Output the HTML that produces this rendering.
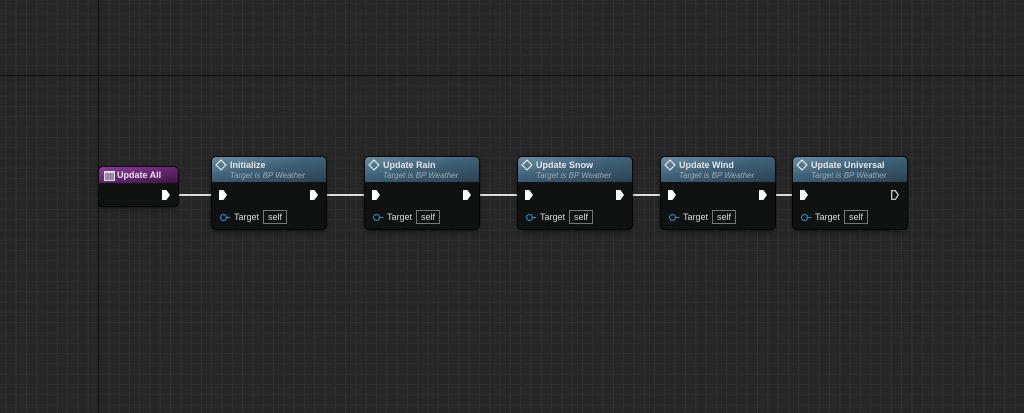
<!DOCTYPE html>
<html><head><style>
body{margin:0;width:1024px;height:413px;overflow:hidden;background:#262626;font-family:"Liberation Sans",sans-serif;position:relative}
.grid{position:absolute;inset:0;background-image:linear-gradient(to right,#2f2f2f 1px,transparent 1px),linear-gradient(to bottom,#2f2f2f 1px,transparent 1px);background-size:10.3px 10.3px;background-position:98px 75px}
.maj{position:absolute;background:#111}
.node{position:absolute;background:#101111;border-radius:4px;box-shadow:0 0 0 1px #050505,0 2px 4px rgba(0,0,0,.6)}
.hd{position:absolute;left:0;right:0;top:0;border-radius:4px 4px 0 0;background:linear-gradient(170deg,#6a8ea5 0%,#3f6178 45%,#2a4252 100%)}
.t{position:absolute;left:18px;top:3px;color:#e6e6e6;font-size:9px;font-weight:bold}
.s{position:absolute;left:18px;top:14px;color:#9aa9b2;font-size:8px;font-style:italic}
.ic{position:absolute;left:5px;top:4px;width:6px;height:6px;border:1.5px solid #fff;transform:rotate(45deg)}
.pin{position:absolute;width:8px;height:10px;background:#fff;clip-path:polygon(0 0,55% 0,100% 50%,55% 100%,0 100%)}
.pino{position:absolute;width:8px;height:10px}
.tg{position:absolute;left:8px;color:#ddd;font-size:9px}
.tg i{display:inline-block;width:5px;height:5px;border:1.5px solid #1d9ad6;border-radius:50%;vertical-align:middle;margin-right:1px}
.tg i+b{display:inline-block;width:4px;height:1.5px;background:#1d9ad6;vertical-align:middle;margin-right:4px;margin-left:-2px}
.tg span{display:inline-block;border:1px solid #777;padding:0 4px;margin-left:4px;line-height:12px}
.wire{position:absolute;height:2px;background:#ddd;top:194px}
</style></head><body>
<div class="grid"></div>
<div class="maj" style="left:98px;top:0;width:1px;height:413px"></div>
<div class="maj" style="left:0;top:75px;width:1024px;height:1px"></div>

<div class="wire" style="left:169px;width:50px"></div>
<div class="wire" style="left:318px;width:54px"></div>
<div class="wire" style="left:471px;width:54px"></div>
<div class="wire" style="left:624px;width:44px"></div>
<div class="wire" style="left:767px;width:33px"></div>

<div class="node" style="left:99px;top:167px;width:79px;height:39px">
 <div class="hd" style="height:16px;background:linear-gradient(170deg,#8e3a9c,#5e2168 60%,#3c1642)"></div>
 <div style="position:absolute;left:5px;top:4px;width:9px;height:7px;border:1px solid #ddd;border-top-width:2px;background:#9a8aa8"></div>
 <div class="t" style="left:18px;top:3px">Update All</div>
 <div class="pin" style="left:63px;top:23px"></div>
</div>

<div class="node" style="left:212px;top:157px;width:114px;height:72px">
 <div class="hd" style="height:25px"></div><div class="ic"></div>
 <div class="t">Initialize</div><div class="s">Target is BP Weather</div>
 <div class="pin" style="left:7px;top:33px"></div><div class="pin" style="left:98px;top:33px"></div>
 <div class="tg" style="top:53px"><i></i><b></b>Target<span>self</span></div>
</div>
<div class="node" style="left:365px;top:157px;width:114px;height:72px">
 <div class="hd" style="height:25px"></div><div class="ic"></div>
 <div class="t">Update Rain</div><div class="s">Target is BP Weather</div>
 <div class="pin" style="left:7px;top:33px"></div><div class="pin" style="left:98px;top:33px"></div>
 <div class="tg" style="top:53px"><i></i><b></b>Target<span>self</span></div>
</div>
<div class="node" style="left:518px;top:157px;width:114px;height:72px">
 <div class="hd" style="height:25px"></div><div class="ic"></div>
 <div class="t">Update Snow</div><div class="s">Target is BP Weather</div>
 <div class="pin" style="left:7px;top:33px"></div><div class="pin" style="left:98px;top:33px"></div>
 <div class="tg" style="top:53px"><i></i><b></b>Target<span>self</span></div>
</div>
<div class="node" style="left:661px;top:157px;width:114px;height:72px">
 <div class="hd" style="height:25px"></div><div class="ic"></div>
 <div class="t">Update Wind</div><div class="s">Target is BP Weather</div>
 <div class="pin" style="left:7px;top:33px"></div><div class="pin" style="left:98px;top:33px"></div>
 <div class="tg" style="top:53px"><i></i><b></b>Target<span>self</span></div>
</div>
<div class="node" style="left:793px;top:157px;width:114px;height:72px">
 <div class="hd" style="height:25px"></div><div class="ic"></div>
 <div class="t">Update Universal</div><div class="s">Target is BP Weather</div>
 <div class="pin" style="left:7px;top:33px"></div>
 <svg class="pino" style="left:98px;top:33px" viewBox="0 0 8 10"><polygon points="0.7,0.7 4.4,0.7 7.3,5 4.4,9.3 0.7,9.3" fill="none" stroke="#ddd" stroke-width="1.2"/></svg>
 <div class="tg" style="top:53px"><i></i><b></b>Target<span>self</span></div>
</div>
</body></html>
